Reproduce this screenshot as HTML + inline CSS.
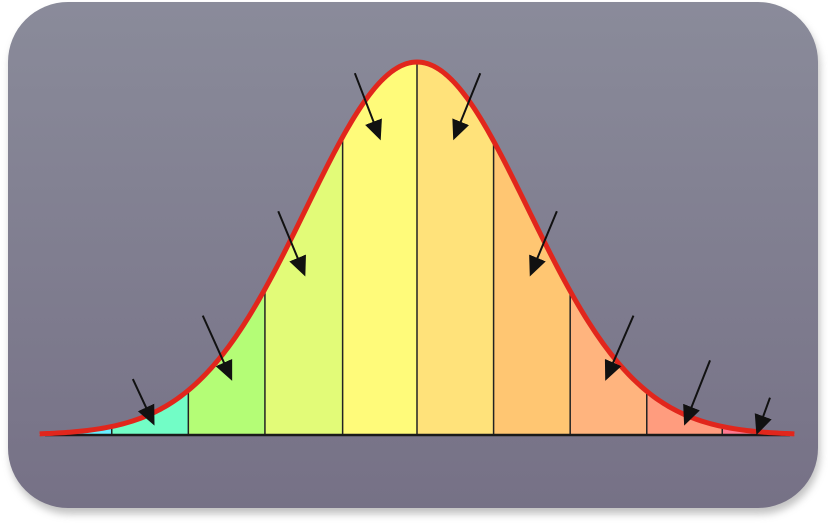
<!DOCTYPE html>
<html><head><meta charset="utf-8"><style>
html,body{margin:0;padding:0;width:828px;height:524px;background:#fff;overflow:hidden}
</style></head><body>
<svg id="chart" width="828" height="524" viewBox="0 0 828 524">
<defs>
<linearGradient id="bg" x1="0" y1="0" x2="0" y2="1">
<stop offset="0" stop-color="#8a8b9a"/><stop offset="1" stop-color="#767186"/>
</linearGradient>
<filter id="sh" x="-5%" y="-5%" width="110%" height="115%"><feGaussianBlur stdDeviation="4"/></filter>
<marker id="ah" markerWidth="10" markerHeight="9" refX="8" refY="4.5" orient="auto" markerUnits="strokeWidth">
<path d="M0,0 L10,4.5 L0,9 Z" fill="#111"/></marker>
</defs>
<rect x="10" y="8" width="810" height="506" rx="60" fill="#999" opacity="0.6" filter="url(#sh)"/>
<rect x="8" y="2" width="810" height="506" rx="60" fill="url(#bg)"/>
<g id="bins"></g>
<g id="dividers"></g>
<line x1="45" y1="435" x2="790" y2="435" stroke="#1a1a1a" stroke-width="2.5"/>
<path id="curve" fill="none" stroke="#e1261c" stroke-width="5" stroke-linejoin="round"/>
<g id="arrows"></g>
</svg>
<script>
var binEdges = [-3.4, -2.75, -2.06, -1.37, -0.67, 0, 0.69, 1.38, 2.07, 2.75, 3.4];
var binColors = ["#68eeff","#72fdc6","#b4fd76","#e2fb78","#fffb7a","#ffe27a","#ffc672","#ffb47e","#ff9c7e","#ff7a90"];
var arrowStartZ = [-2.56, -1.93, -1.25, -0.56, 0.57, 1.26, 1.95, 2.64, 3.18];
var arrowEndZ = [-2.38, -1.68, -1.02, -0.34, 0.34, 1.03, 1.71, 2.42, 3.07];
var arrowStartH = [0.15, 0.32, 0.60, 0.97, 0.97, 0.60, 0.32, 0.20, 0.10];
var arrowEndH = [0.035, 0.155, 0.435, 0.80, 0.80, 0.435, 0.155, 0.035, 0.01];
var NS="http://www.w3.org/2000/svg";
var cx=417, sig=111, base=435, peak=373;
function X(z){return cx+z*sig;}
function pdf(z){return Math.exp(-z*z/2);}
function Y(h){return base-peak*h;}
var bins=document.getElementById('bins'), div=document.getElementById('dividers');
for(var i=0;i<binColors.length;i++){
  var a=binEdges[i], b=binEdges[i+1], d="M"+X(a)+","+base;
  for(var k=0;k<=30;k++){var z=a+(b-a)*k/30; d+=" L"+X(z).toFixed(2)+","+Y(pdf(z)).toFixed(2);}
  d+=" L"+X(b)+","+base+" Z";
  var p=document.createElementNS(NS,'path');
  p.setAttribute('d',d);p.setAttribute('fill',binColors[i]);
  
  
  bins.appendChild(p);
}
for(var j=1;j<binEdges.length-1;j++){
  var z=binEdges[j], l=document.createElementNS(NS,'line');
  l.setAttribute('x1',X(z));l.setAttribute('x2',X(z));
  l.setAttribute('y1',base);l.setAttribute('y2',Y(pdf(z)));
  l.setAttribute('stroke','#222');l.setAttribute('stroke-width','1.5');
  
  
  div.appendChild(l);
}
var cd="";
for(var k=0;k<=300;k++){var z=-3.4+6.8*k/300; cd+=(k?" L":"M")+X(z).toFixed(2)+","+Y(pdf(z)).toFixed(2);}
document.getElementById('curve').setAttribute('d',cd);
var ar=document.getElementById('arrows');
for(var m=0;m<arrowStartZ.length;m++){
  var x1=X(arrowStartZ[m]), y1=Y(arrowStartH[m]), x2=X(arrowEndZ[m]), y2=Y(arrowEndH[m]);
  var ln=document.createElementNS(NS,'line');
  ln.setAttribute('x1',x1);ln.setAttribute('y1',y1);ln.setAttribute('x2',x2);ln.setAttribute('y2',y2);
  ln.setAttribute('stroke','#111');ln.setAttribute('stroke-width','2');
  ln.setAttribute('marker-end','url(#ah)');
  
  
  ar.appendChild(ln);
}
</script>
</body></html>
